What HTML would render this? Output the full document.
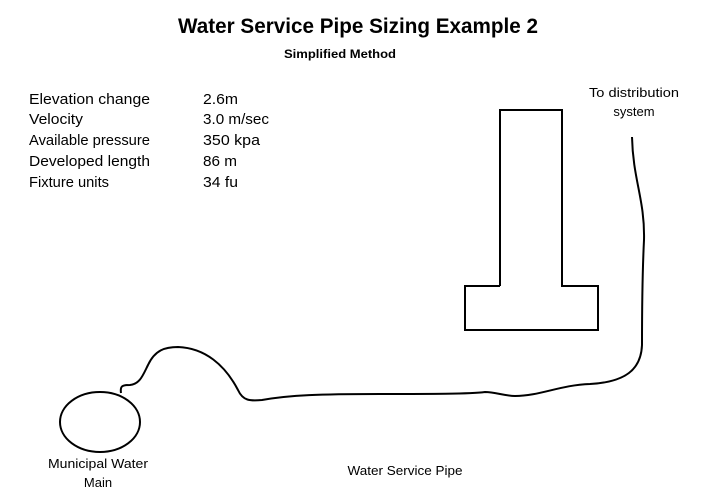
<!DOCTYPE html>
<html><head><meta charset="utf-8"><style>html,body{margin:0;padding:0;background:#fff}svg{display:block}</style></head>
<body>
<svg width="713" height="493" viewBox="0 0 713 493" xmlns="http://www.w3.org/2000/svg" font-family="Liberation Sans, sans-serif" fill="#000">
<text x="358" y="33" font-size="21" font-weight="bold" text-anchor="middle" textLength="360" lengthAdjust="spacingAndGlyphs">Water Service Pipe Sizing Example 2</text>
<text x="340" y="58" font-size="12" font-weight="bold" text-anchor="middle" textLength="112" lengthAdjust="spacingAndGlyphs">Simplified Method</text>
<g font-size="15">
<text x="29" y="104" textLength="121" lengthAdjust="spacingAndGlyphs">Elevation change</text>
<text x="29" y="124" textLength="54" lengthAdjust="spacingAndGlyphs">Velocity</text>
<text x="29" y="145" textLength="121" lengthAdjust="spacingAndGlyphs">Available pressure</text>
<text x="29" y="166" textLength="121" lengthAdjust="spacingAndGlyphs">Developed  length</text>
<text x="29" y="187" textLength="80" lengthAdjust="spacingAndGlyphs">Fixture units</text>
<text x="203" y="104" textLength="35" lengthAdjust="spacingAndGlyphs">2.6m</text>
<text x="203" y="124" textLength="66" lengthAdjust="spacingAndGlyphs">3.0 m/sec</text>
<text x="203" y="145" textLength="57" lengthAdjust="spacingAndGlyphs">350 kpa</text>
<text x="203" y="166" textLength="34" lengthAdjust="spacingAndGlyphs">86 m</text>
<text x="203" y="187" textLength="35" lengthAdjust="spacingAndGlyphs">34 fu</text>
</g>
<g font-size="13" text-anchor="middle">
<text x="634" y="97" textLength="90" lengthAdjust="spacingAndGlyphs">To distribution</text>
<text x="634" y="116">system</text>
<text x="98" y="468" textLength="100" lengthAdjust="spacingAndGlyphs">Municipal Water</text>
<text x="98" y="487">Main</text>
<text x="405" y="475" textLength="115" lengthAdjust="spacingAndGlyphs">Water Service Pipe</text>
</g>
<g fill="none" stroke="#000" stroke-width="2">
<path d="M500 286 V110 H562 V286 H598 V330 H465 V286 H500"/>
<ellipse cx="100" cy="422" rx="40" ry="30"/>
<path d="M121 393 C120 386 122 385 130 385 C140 384 143 375 148 365 C155 350 165 347 178 347 C205 348 225 365 238 390 C243 401 250 401 262 400 C290 395 320 394 380 394 C430 394 470 394 485 392 C495 392 505 396 515 396 C540 396 560 385 590 384 C625 382 641 370 642 345 C642 320 642 280 644 240 C645 200 633 180 632 137"/>
</g>
</svg>
</body></html>
